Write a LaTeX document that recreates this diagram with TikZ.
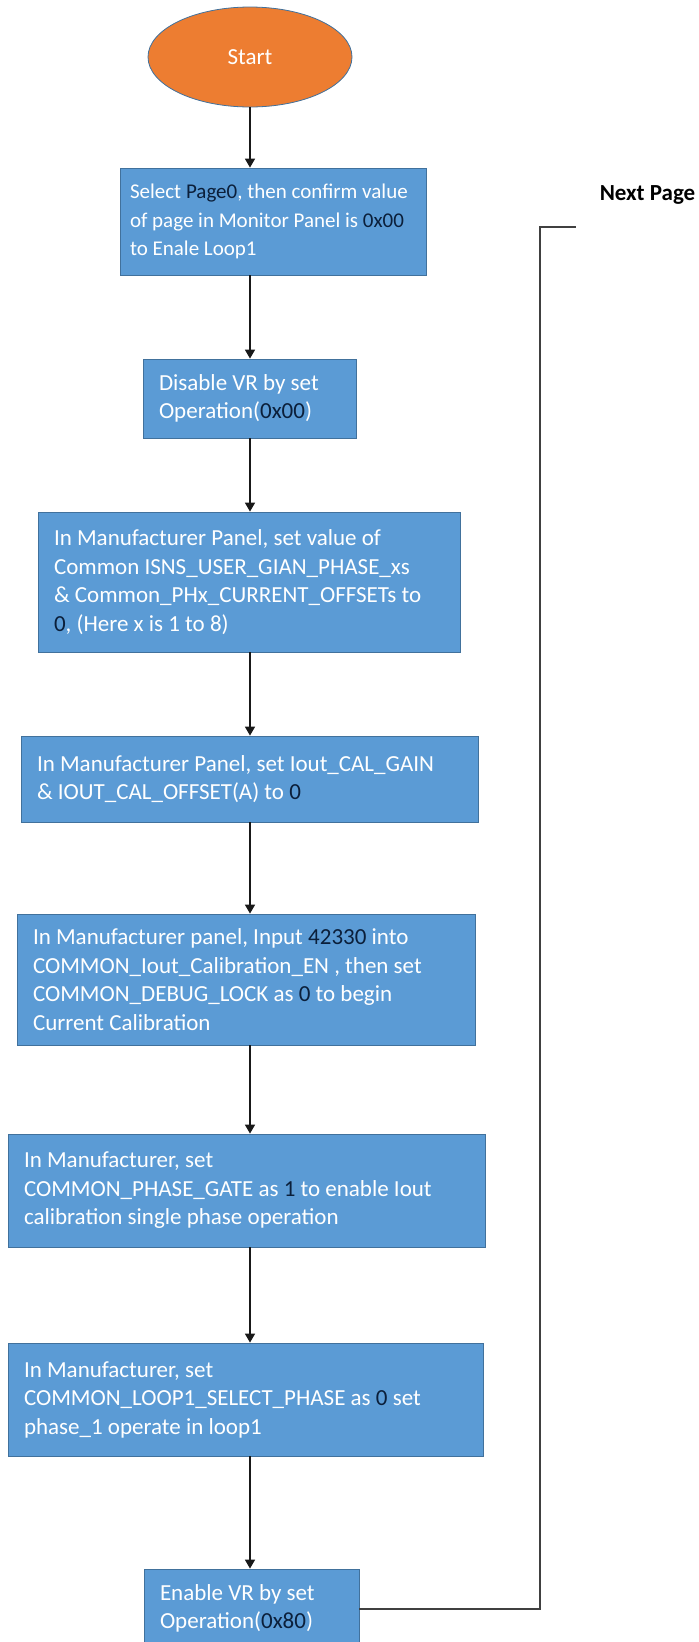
\documentclass[tikz,border=0pt]{standalone}
\usepackage{fontspec}
\setmainfont{Carlito}
\usepackage{tikz}
\usetikzlibrary{positioning,arrows.meta,calc,shapes.geometric}

\definecolor{boxblue}{HTML}{5B9BD5}
\definecolor{boxline}{HTML}{41719C}
\definecolor{startorange}{HTML}{ED7D31}
\definecolor{hlnavy}{HTML}{0B1F3A}
\newcommand{\hlval}[1]{\textcolor{hlnavy}{#1}}

\begin{document}
\begin{tikzpicture}[
    x=1pt, y=-1pt,
    >={Triangle[width=10pt,length=9pt]},
    arr/.style={->, line width=1.6pt, draw=black!90},
    link/.style={line width=2pt, draw=black!75},
    box/.style={
        rectangle,
        draw=boxline,
        line width=0.8pt,
        fill=boxblue,
        text=white,
        align=flush left,
        inner xsep=16pt,
        inner ysep=0pt,
        font=\fontsize{23}{28.5}\selectfont
    }
]
\useasboundingbox (0,0) rectangle (699,1642);

\node[ellipse, draw=boxline, line width=0.8pt, fill=startorange, text=white,
      minimum width=204pt, minimum height=100pt, inner sep=0pt,
      font=\fontsize{23}{28.5}\selectfont] (start) at (250,57) {Start};

\node[box, inner xsep=10pt, text width=286pt, minimum width=306pt, minimum height=107pt,
      font=\fontsize{21}{28.5}\selectfont] (sel) at (273,221.5)
    {Select \hlval{Page0}, then confirm value\\of page in Monitor Panel is \hlval{0x00}\\to Enale Loop1};
\node[box, text width=181pt, minimum width=213pt, minimum height=79pt] (dis) at (249.5,398.5)
    {Disable VR by set\\Operation(\hlval{0x00})};
\node[box, text width=390pt, minimum width=422pt, minimum height=140pt] (gain) at (249,582)
    {In Manufacturer Panel, set value of\\Common ISNS\_USER\_GIAN\_PHASE\_xs\\\& Common\_PHx\_CURRENT\_OFFSETs to\\\hlval{0}, (Here x is 1 to 8)};
\node[box, text width=425pt, minimum width=457pt, minimum height=86pt] (iout) at (249.5,779)
    {In Manufacturer Panel, set Iout\_CAL\_GAIN\\\& IOUT\_CAL\_OFFSET(A) to \hlval{0}};
\node[box, text width=426pt, minimum width=458pt, minimum height=131pt] (calen) at (246,979.5)
    {In Manufacturer panel, Input \hlval{42330} into\\COMMON\_Iout\_Calibration\_EN , then set\\COMMON\_DEBUG\_LOCK as \hlval{0} to begin\\Current Calibration};
\node[box, text width=445pt, minimum width=477pt, minimum height=113pt] (gate) at (246.5,1190.5)
    {In Manufacturer, set\\COMMON\_PHASE\_GATE as \hlval{1} to enable Iout\\calibration single phase operation};
\node[box, text width=443pt, minimum width=475pt, minimum height=113pt] (loop) at (245.5,1399.5)
    {In Manufacturer, set\\COMMON\_LOOP1\_SELECT\_PHASE as \hlval{0} set\\phase\_1 operate in loop1};
\node[box, text width=183pt, minimum width=215pt, minimum height=79pt] (ena) at (251.5,1608.5)
    {Enable VR by set\\Operation(\hlval{0x80})};

\node[font=\fontsize{23}{28}\selectfont\bfseries, inner sep=0pt] (nextpg) at (647.5,195) {Next Page};

\coordinate (upturn) at (540,227);
\coordinate (pgend) at (576,227);

\draw[arr] (start.south -| start) -- (sel.north -| start);
\draw[arr] (sel.south -| start) -- (dis.north -| start);
\draw[arr] (dis.south -| start) -- (gain.north -| start);
\draw[arr] (gain.south -| start) -- (iout.north -| start);
\draw[arr] (iout.south -| start) -- (calen.north -| start);
\draw[arr] (calen.south -| start) -- (gate.north -| start);
\draw[arr] (gate.south -| start) -- (loop.north -| start);
\draw[arr] (loop.south -| start) -- (ena.north -| start);

\draw[link] (ena.east) -| (upturn) -- (pgend);

\end{tikzpicture}
\end{document}
